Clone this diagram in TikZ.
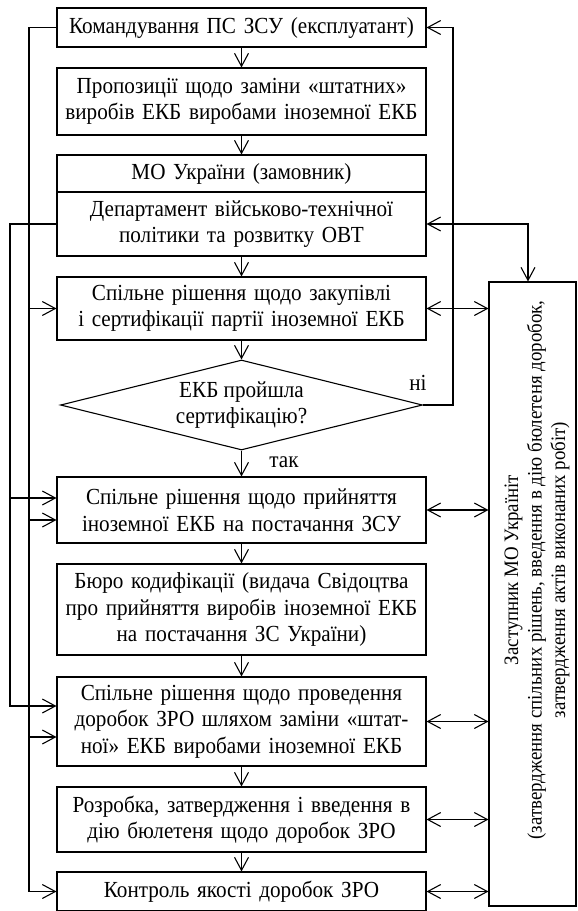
\documentclass[tikz,border=0pt]{standalone}
\usepackage{fontspec}
\setmainfont{Liberation Serif}[FakeStretch=0.92]
\usetikzlibrary{arrows.meta,shapes.geometric}
\begin{document}
\begin{tikzpicture}[x=1pt,y=-1pt,
  every node/.style={font=\fontsize{23}{26.5}\selectfont},
  box/.style={draw, line width=1.1pt, minimum width=369pt, text width=362pt, align=center, inner sep=0pt},
  ln/.style={line width=1.1pt},
  tip/.tip={Straight Barb[length=13pt,width=14pt,line width=1.1pt]},
  arr/.style={ln, -tip},
  darr/.style={ln, tip-tip},
]
\useasboundingbox (0,0) rectangle (578,911);
% main column
\node[box, minimum height=39pt] (b1) at (241.5,27.5) {Командування ПС ЗСУ (експлуатант)};
\node[box, minimum height=67pt] (b2) at (241.5,101.5) {Пропозиції щодо заміни «штатних»\\виробів ЕКБ виробами іноземної ЕКБ};
\node[box, minimum height=37pt] (mo) at (241.5,173.5) {МО України (замовник)};
\node[box, minimum height=64pt] (dep) at (241.5,224) {Департамент військово-технічної\\політики та розвитку ОВТ};
\node[box, minimum height=63pt] (b4) at (241.5,308.5) {Спільне рішення щодо закупівлі\\і сертифікації партії іноземної ЕКБ};
\node[draw, line width=1.1pt, shape=diamond, shape aspect=4, minimum width=362pt, minimum height=90pt, inner sep=0pt, align=center] (dia) at (241.5,405) {ЕКБ пройшла\\сертифікацію?};
\node[box, minimum height=66pt] (b5) at (241.5,510) {Спільне рішення щодо прийняття\\іноземної ЕКБ на постачання ЗСУ};
\node[box, minimum height=91pt] (b6) at (241.5,609.5) {Бюро кодифікації (видача Свідоцтва\\про прийняття виробів іноземної ЕКБ\\на постачання ЗС України)};
\node[box, minimum height=89pt] (b7) at (241.5,721.5) {Спільне рішення щодо проведення\\доробок ЗРО шляхом заміни «штат-\\ної» ЕКБ виробами іноземної ЕКБ};
\node[box, minimum height=65pt] (b8) at (241.5,819.5) {Розробка, затвердження і введення в\\дію бюлетеня щодо доробок ЗРО};
\node[box, minimum height=39pt] (b9) at (241.5,891.5) {Контроль якості доробок ЗРО};
% right box
\node[draw, line width=1.1pt, minimum width=87pt, minimum height=624pt, inner sep=0pt] (rb) at (532.5,594) {};
\node[rotate=90, align=center, font=\fontsize{20.5}{23.5}\selectfont] (rbt) at (537,570) {Заступник МО Україніт\\(затвердження спільних рішень, введення в дію бюлетеня доробок,\\затвердження актів виконаних робіт)};
% labels
\node (ni) at (418,383) {ні};
\node (tak) at (284,462) {так};
% guide coordinates
\coordinate (L1) at (29,0);
\coordinate (L2) at (10,0);
\coordinate (R1) at (453,0);
\coordinate (R2) at (528,0);
% vertical flow
\draw[arr] (b1) -- (b2);
\draw[arr] (b2) -- (mo);
\draw[arr] (dep) -- (b4);
\draw[arr] (b4) -- (dia);
\draw[arr] (dia) -- (b5);
\draw[arr] (b5) -- (b6);
\draw[arr] (b6) -- (b7);
\draw[arr] (b7) -- (b8);
\draw[arr] (b8) -- (b9);
% left outer line
\draw[arr] (b1.west) -- (b1.west -| L1) -- (b9.west -| L1) -- (b9.west);
\draw[arr] (b4.west -| L1) -- (b4.west);
\draw[arr] ([yshift=-10pt]b5.west -| L1) -- ([yshift=-10pt]b5.west);
\draw[arr] ([yshift=-15.5pt]b7.west -| L1) -- ([yshift=-15.5pt]b7.west);
% left inner line
\draw[arr] (dep.west) -- (dep.west -| L2) -- ([yshift=15.5pt]b7.west -| L2) -- ([yshift=15.5pt]b7.west);
\draw[arr] ([yshift=12pt]b5.west -| L2) -- ([yshift=12pt]b5.west);
% right loop
\draw[arr] (dia.east) -- (dia.east -| R1) -- (b1.east -| R1) -- (b1.east);
% department to right box
\draw[darr] (dep.east) -- (dep.east -| R2) -- (rb.north -| R2);
% double arrows to right box
\draw[darr] (b4.east) -- (b4.east -| rb.west);
\draw[darr] (b5.east) -- (b5.east -| rb.west);
\draw[darr] (b7.east) -- (b7.east -| rb.west);
\draw[darr] (b8.east) -- (b8.east -| rb.west);
\draw[darr] (b9.east) -- (b9.east -| rb.west);
\end{tikzpicture}
\end{document}
